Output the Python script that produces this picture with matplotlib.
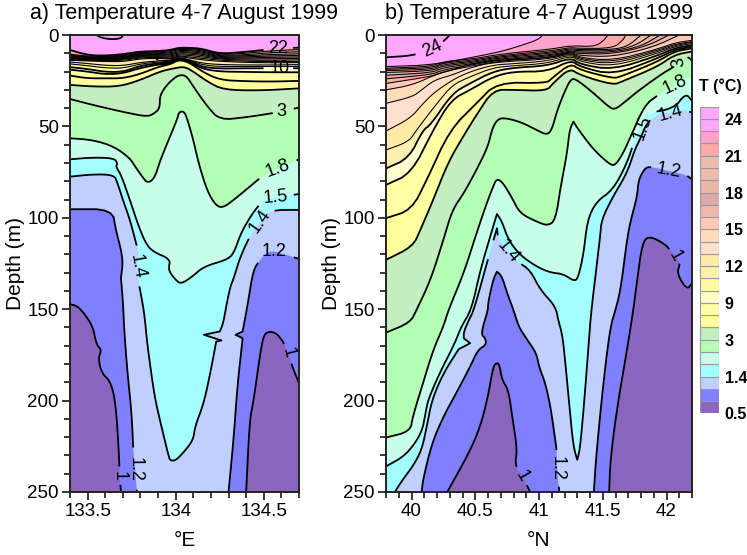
import matplotlib
matplotlib.use('Agg')
import matplotlib.pyplot as plt
import numpy as np

plt.rcParams['font.family'] = ['Liberation Sans', 'DejaVu Sans']

# band colours, keyed by the isotherm on top of the band
band_color = {23: '#FFA3CC', 22: '#FFA8A8', 21: '#EFBBAA', 20: '#EDBBAC', 19: '#EBB5A8',
              18: '#DFA9A9', 17: '#EDB8A8', 16: '#FFC8B8', 15: '#FFDDBB', 14: '#FFE0CF',
              13: '#FFEAA6', 12: '#FFEFB0', 11: '#FFFBA0', 10: '#FFFFD0', 9: '#FFFFA6',
              7: '#FFFFA0', 5: '#C2EEC0', 3: '#B3FFB3', 1.8: '#C6FFEA', 1.5: '#A3FFFF',
              1.4: '#BFD0FF', 1.2: '#8080FF', 1: '#8A66C0'}
top_color = '#FFA6FF'

# ---- section a: thermocline, depth at shared stations
a_lon = [133.40, 133.50, 133.60, 133.70, 133.80, 133.90, 133.97, 134.02, 134.08, 134.15, 134.25, 134.40, 134.55, 134.70]
a_t22 = [8.2, 11.0, 11.3, 10.5, 9.0, 8.8, 8.2, 6.9, 7.0, 7.5, 10.3, 9.2, 7.6, 6.9]
a_t21 = [10.5, 11.6, 11.8, 11.0, 9.6, 9.3, 8.6, 7.4, 7.5, 8.0, 10.8, 10.0, 8.6, 8.0]
a_t20 = [11.0, 12.0, 12.2, 11.4, 10.0, 9.8, 9.2, 7.9, 8.0, 8.6, 11.2, 10.8, 9.6, 9.2]
a_t19 = [11.4, 12.3, 12.5, 11.8, 10.4, 10.2, 9.8, 8.4, 8.5, 9.2, 11.6, 11.4, 10.6, 10.3]
a_t18 = [11.8, 12.6, 12.8, 12.2, 10.8, 10.6, 10.4, 9.0, 9.2, 9.8, 12.0, 12.0, 11.4, 11.2]
a_t17 = [12.2, 12.9, 13.1, 12.6, 11.2, 11.0, 11.0, 9.6, 9.8, 10.5, 12.4, 12.6, 12.2, 12.0]
a_t16 = [12.6, 13.2, 13.4, 13.0, 11.6, 11.4, 11.6, 10.2, 10.5, 11.2, 12.8, 13.2, 13.0, 12.8]
a_t15 = [13.0, 13.5, 13.7, 13.4, 12.0, 11.8, 12.2, 10.8, 11.2, 12.0, 13.2, 13.8, 13.8, 13.6]
a_t14 = [13.4, 13.8, 14.0, 13.9, 12.5, 12.2, 12.8, 11.4, 12.0, 12.8, 13.8, 14.4, 14.5, 14.4]
a_t13 = [13.8, 14.2, 14.5, 14.6, 13.0, 12.8, 13.2, 11.8, 12.6, 13.6, 14.4, 15.0, 15.2, 15.1]
a_t12 = [14.8, 15.6, 16.6, 16.8, 15.0, 14.2, 13.8, 12.2, 13.6, 15.4, 16.2, 16.4, 16.4, 16.2]
a_t11 = [15.8, 16.8, 18.0, 18.2, 15.8, 14.8, 14.4, 12.4, 13.9, 16.3, 17.3, 17.2, 17.2, 17.2]
a_t10 = [17.6, 18.6, 20.2, 20.2, 16.8, 15.5, 15.0, 12.6, 14.2, 17.5, 18.4, 18.2, 18.2, 18.2]
a_t9 = [19.0, 20.0, 21.5, 21.0, 18.0, 16.2, 15.6, 12.8, 14.8, 18.5, 20.0, 20.2, 20.4, 20.4]
a_t7 = [22.2, 23.7, 23.7, 23.7, 21.3, 17.5, 16.0, 13.5, 15.2, 20.0, 24.6, 25.3, 25.5, 25.1]
a_levels = [22, 21, 20, 19, 18, 17, 16, 15, 14, 13, 12, 11, 10, 9, 7]
a_depths = [a_t22, a_t21, a_t20, a_t19, a_t18, a_t17, a_t16, a_t15, a_t14, a_t13, a_t12, a_t11, a_t10, a_t9, a_t7]

# warm blob in the thermocline at 134E
a_blob = [(133.89, 13.4), (133.94, 12.3), (134.0, 13.0), (133.96, 14.3), (133.9, 14.0), (133.89, 13.4)]
# closed 24 degree contour at the surface
a_t24 = [(133.55, 0.0), (133.58, 1.6), (133.64, 2.4), (133.69, 1.8), (133.7, 0.0)]

# ---- section a: isotherms as (lon, depth), a repeated point keeps a sharp tip
a_t5 = [(133.4, 27.3), (133.53, 28.2), (133.68, 28.2), (133.8, 24.6), (133.91, 20), (133.99, 18.2), (134.05, 17.3),
        (134.1, 20), (134.18, 25.5), (134.27, 30), (134.48, 30.4), (134.7, 29.2)]
a_t3 = [(133.4, 35), (133.53, 38.3), (133.72, 42.5), (133.84, 44.7), (133.88, 42.8), (133.91, 40), (133.91, 33),
        (133.95, 27.3), (133.99, 23.7), (134.02, 21.9), (134.06, 22.2), (134.1, 28.2), (134.18, 39.2), (134.25, 46.5),
        (134.4, 45), (134.57, 42.5), (134.7, 39.7)]
a_t1_8 = [(133.4, 56.5), (133.53, 57.4), (133.65, 61), (133.74, 67.4), (133.77, 72), (133.81, 77.5), (133.84, 81.1),
          (133.88, 78.4), (133.91, 69.3), (133.94, 62), (133.98, 52.8), (134.01, 45.6), (134.02, 41.9), (134.05, 41.9),
          (134.07, 47.4), (134.1, 57.4), (134.13, 70.2), (134.18, 85.7), (134.23, 93.5), (134.27, 94.4), (134.33, 90.2),
          (134.42, 83), (134.5, 76.5), (134.55, 74.7), (134.7, 68)]
a_t1_5 = [(133.4, 68), (133.53, 67), (133.65, 67.4), (133.67, 70.2), (133.66, 72), (133.69, 76.5), (133.74, 90.2),
          (133.79, 104.8), (133.83, 113.9), (133.87, 118.5), (133.97, 122.6), (133.96, 127.6), (133.97, 130.3),
          (134.0, 134), (134.03, 136.2), (134.09, 132.5), (134.16, 126.6), (134.29, 123), (134.33, 119.4),
          (134.37, 108.4), (134.43, 98.4), (134.49, 91), (134.52, 90.2), (134.57, 88.8), (134.7, 87)]
a_t1_4 = [(133.4, 77.5), (133.53, 76.2), (133.65, 76.5), (133.67, 81), (133.7, 90.2), (133.74, 101), (133.77, 112),
          (133.79, 119.4), (133.78, 126.7), (133.79, 135.8), (133.82, 150.4), (133.84, 170.4), (133.88, 197.8),
          (133.91, 210.5), (133.96, 230.6), (133.97, 232.8), (134.0, 232.8), (134.05, 227.8), (134.1, 221.4),
          (134.11, 214), (134.16, 201.4), (134.2, 183.2), (134.23, 167.7), (134.23, 167.7), (134.26, 167.1), (134.26, 167.1),
          (134.16, 164), (134.16, 164), (134.16, 164), (134.25, 162.2), (134.25, 162.2), (134.27, 157.7), (134.29, 146.7),
          (134.31, 137.6), (134.33, 133), (134.36, 123), (134.42, 110), (134.48, 102), (134.54, 95.7), (134.7, 95.7)]
a_t1_2_left = [(133.4, 95.3), (133.64, 95.3), (133.66, 106.6), (133.69, 117.5), (133.7, 124.8), (133.69, 132.1),
               (133.69, 134), (133.7, 145), (133.71, 165), (133.73, 188.6), (133.75, 206.9), (133.76, 228.7),
               (133.77, 237.8), (133.78, 250)]
a_t1_2_right = [(134.3, 250), (134.33, 219.6), (134.35, 192.3), (134.38, 165.9), (134.38, 165.9), (134.34, 164), (134.34, 164), (134.34, 164),
                (134.38, 162.2), (134.38, 162.2), (134.41, 146.7), (134.44, 128.5), (134.48, 123), (134.52, 118.5), (134.57, 118.5), (134.7, 122.5)]
a_t1_left = [(133.4, 147.3), (133.44, 148.2), (133.48, 152.2), (133.53, 159.5), (133.55, 169.5), (133.58, 172.2),
             (133.56, 176.8), (133.58, 185), (133.63, 189.5), (133.66, 201.4), (133.68, 232.3), (133.68, 241), (133.69, 250)]
a_t1_right = [(134.4, 250), (134.42, 210.5), (134.44, 201.4), (134.48, 174), (134.5, 164), (134.53, 162.2),
              (134.57, 163), (134.61, 167.7), (134.64, 174), (134.66, 181), (134.7, 190.5)]

# ---- section b: isotherms as (lon, depth)
b_t24 = [(39.8, 12.2), (40.01, 11.3), (40.16, 7.7), (40.25, 3.6), (40.3, 0)]
b_t23 = [(39.8, 17.3), (40.16, 16.4), (40.5, 11.9), (40.7, 9.1), (40.83, 6.4), (40.99, 2.7), (41.03, 0)]
b_t22 = [(39.8, 18.2), (40.16, 17.2), (40.24, 14.6), (40.5, 12.9), (40.7, 10.4), (41.1, 7.7), (41.25, 5.8), (41.43, 6.4), (41.5, 3.6), (41.54, 0)]
b_t21 = [(39.8, 18.8), (40.16, 18), (40.24, 15.4), (40.5, 13.6), (40.7, 11.2), (41.1, 8.6), (41.25, 6.8), (41.3, 7.3), (41.58, 7.3), (41.66, 2.7), (41.68, 0)]
b_t20 = [(39.8, 19.5), (40.16, 18.8), (40.24, 16.2), (40.5, 14.2), (40.7, 11.8), (41.1, 9.4), (41.25, 7.4), (41.3, 8.0), (41.58, 8.0), (41.7, 6.0), (41.8, 0)]
b_t19 = [(39.8, 20.5), (40.16, 19.6), (40.24, 17.0), (40.5, 14.8), (40.7, 12.4), (41.1, 10.0), (41.25, 8.0), (41.3, 8.6), (41.58, 8.8), (41.75, 6.0), (41.88, 0)]
b_t18 = [(39.8, 22), (40.16, 20.6), (40.24, 18.0), (40.5, 15.4), (40.7, 13.0), (41.1, 10.8), (41.25, 8.6), (41.3, 9.4), (41.58, 9.5), (41.8, 6.2), (41.95, 0)]
b_t17 = [(39.8, 24), (40.16, 21.6), (40.24, 19.2), (40.5, 16.0), (40.7, 13.6), (41.1, 11.4), (41.25, 9.0), (41.3, 10.2), (41.58, 10.4), (41.85, 6.0), (42.02, 0)]
b_t16 = [(39.8, 26.5), (40.16, 22.6), (40.24, 20.2), (40.5, 16.6), (40.7, 14.2), (41.1, 12.1), (41.25, 9.3), (41.3, 11.2), (41.58, 12), (41.9, 6.5), (42.1, 0)]
b_t15 = [(39.8, 30), (40.01, 27.3), (40.18, 21.9), (40.32, 19.1), (40.46, 16), (40.64, 13.8), (41.07, 12.8), (41.25, 9.5), (41.32, 12.4), (41.58, 14), (41.93, 7.7), (42.06, 4.4), (42.2, 2.9)]
b_t14 = [(39.8, 37.4), (40.01, 33.7), (40.08, 30), (40.18, 24.6), (40.32, 21.9), (40.46, 17.9), (40.64, 14.9), (41.07, 13.3), (41.25, 10), (41.32, 13.1), (41.58, 14.9), (41.93, 8.4), (42.06, 5.1), (42.2, 3.6)]
b_t13 = [(39.8, 52.5), (39.99, 45.6), (40.08, 38.3), (40.17, 31.9), (40.32, 24.6), (40.46, 20), (40.64, 16.4), (40.8, 15.7), (41.07, 14.2), (41.25, 10.6), (41.32, 13.7), (41.58, 16), (41.93, 9.1), (42.06, 5.8), (42.2, 4)]
b_t12 = [(39.8, 62.9), (39.98, 58.3), (40.04, 51.9), (40.2, 37.4), (40.32, 27.3), (40.46, 22.8), (40.64, 17.9), (40.8, 16.8), (41.07, 15.5), (41.25, 11.3), (41.32, 14.6), (41.58, 17.3), (41.93, 10), (42.06, 6.4), (42.2, 4.6)]
b_t10 = [(39.8, 73), (39.98, 67.4), (40.09, 51.9), (40.15, 49.2), (40.32, 31.9), (40.46, 26.4), (40.64, 20), (40.8, 17.9), (41.07, 16.8), (41.25, 12.4), (41.32, 16), (41.58, 19.1), (41.93, 11.3), (42.06, 7.3), (42.2, 5.5)]
b_t9 = [(39.8, 82), (40, 75.6), (40.17, 51.9), (40.31, 35.5), (40.46, 30), (40.64, 22.8), (40.8, 20), (41.07, 20), (41.25, 13.7), (41.32, 17.3), (41.58, 21.9), (41.93, 12.8), (42.06, 8.2), (42.2, 6.4)]
b_t7 = [(39.8, 100.2), (40, 95.7), (40.12, 79.3), (40.3, 51.9), (40.51, 37.4), (40.67, 25.9), (41.06, 26.4), (41.1, 23.7), (41.25, 15.5), (41.32, 19.1), (41.58, 23.7), (41.64, 22.8), (41.93, 14.6), (42.06, 9.1), (42.2, 7.3)]
b_t5 = [(39.8, 123), (40.01, 115.7), (40.07, 106.6), (40.17, 90.2), (40.29, 69.2), (40.42, 53.8), (40.51, 43.7), (40.64, 30), (40.8, 30), (41.06, 30.6), (41.11, 26.4), (41.24, 18.2), (41.32, 21.9), (41.58, 27.3), (41.65, 25.5), (41.93, 17.3), (42.06, 10.9), (42.2, 9)]
b_t3 = [(39.8, 162.8), (39.99, 157.3), (40.04, 150.4), (40.15, 134), (40.25, 112.1), (40.32, 95.7), (40.41, 86.6), (40.51, 73.8), (40.6, 61), (40.63, 51.9),
        (40.67, 46.5), (40.72, 45.2), (40.85, 47.4), (40.98, 51.9), (41.06, 54.7), (41.1, 52), (41.14, 41.9), (41.19, 32.8), (41.25, 23.7), (41.3, 24.6),
        (41.43, 31.9), (41.56, 40.1), (41.6, 40.5), (41.66, 37.4), (41.77, 31), (41.95, 21.9), (42.06, 17.3), (42.1, 14.6), (42.17, 11.8), (42.2, 14.2)]
b_t1_8 = [(39.8, 220.2), (39.99, 216.9), (40.01, 208.7), (40.09, 190.5), (40.17, 172.3), (40.25, 159.5), (40.29, 150.4), (40.41, 130.3), (40.51, 108.4),
          (40.59, 92), (40.64, 82.9), (40.67, 78.4), (40.72, 81.1), (40.79, 89.3), (40.85, 97.5), (40.98, 102.1), (41.07, 104.4), (41.13, 101.1), (41.17, 82.9),
          (41.22, 64.7), (41.24, 51.9), (41.27, 47.4), (41.27, 47.4), (41.31, 51.9), (41.43, 62.9), (41.56, 71.1), (41.6, 71.1), (41.66, 64.7), (41.73, 53.8), (41.83, 38.3),
          (41.93, 33), (42.07, 27.3), (42.17, 21.9), (42.2, 24.6)]
b_t1_5 = [(39.8, 236), (39.96, 229.7), (40.08, 217.8), (40.11, 206.9), (40.13, 199.6), (40.22, 185), (40.34, 168.6), (40.39, 159.5), (40.47, 150.4), (40.54, 128.5),
          (40.64, 104.8), (40.67, 97.9), (40.67, 97.9), (40.71, 102.1), (40.76, 112.1), (40.85, 120.3), (40.98, 126.7), (41.09, 130), (41.19, 130.7), (41.28, 134.9), (41.31, 132.1),
          (41.35, 119.4), (41.38, 101.1), (41.45, 91.1), (41.58, 84.7), (41.69, 70.2), (41.75, 57.4), (41.81, 51), (41.85, 42.8), (42.06, 40.1), (42.15, 31.9), (42.2, 36)]
b_t1_4 = [(39.87, 250), (39.92, 244.3), (40.01, 236), (40.08, 227), (40.12, 214.2), (40.16, 199.6), (40.25, 185), (40.37, 171.9), (40.37, 171.9), (40.46, 168.6), (40.46, 168.6), (40.46, 168.6),
          (40.41, 165.9), (40.41, 165.9), (40.41, 162.3), (40.45, 155.9), (40.49, 150.4), (40.62, 117.5), (40.66, 108.4), (40.67, 105.7), (40.67, 105.7), (40.68, 111.2), (40.76, 118.5), (40.83, 124), (40.93, 128.5),
          (41.01, 139.4), (41.13, 148.5), (41.15, 155.8), (41.18, 163.2), (41.2, 174.1), (41.24, 205), (41.27, 225.1), (41.3, 232.4), (41.3, 232.4), (41.32, 227), (41.35, 205),
          (41.39, 168.6), (41.41, 150.4), (41.48, 110.3), (41.49, 101.1), (41.58, 88.4), (41.69, 75.6), (41.75, 62.9), (41.79, 57.4), (41.85, 47.4), (41.96, 42.3),
          (42.03, 42.8), (42.12, 41), (42.2, 42.3)]
b_t1_2_mid = [(40.08, 250), (40.09, 243.3), (40.16, 223.3), (40.25, 208.7), (40.35, 196), (40.46, 181.4), (40.52, 172.3), (40.585, 169.5), (40.58, 165.9),
              (40.55, 164.1), (40.56, 159.5), (40.6, 150.4), (40.6, 146.7), (40.64, 134), (40.67, 129.4), (40.67, 129.4), (40.71, 132.1), (40.75, 141.2), (40.8, 150.4),
              (40.84, 159.5), (40.9, 165.9), (40.98, 174.1), (41.0, 181.4), (41.05, 190.5), (41.09, 203.3), (41.12, 217.8), (41.14, 227.9), (41.14, 237), (41.16, 250)]
b_t1_2_right = [(41.43, 250), (41.45, 228.8), (41.51, 186.8), (41.56, 159.5), (41.6, 150.4), (41.64, 139.4), (41.69, 112), (41.72, 101.1), (41.77, 88.4),
                (41.78, 79.3), (41.83, 72.9), (41.87, 72), (42.02, 74.4), (42.15, 76.5), (42.2, 78.9)]
b_t1_mid = [(40.28, 250), (40.45, 228.8), (40.54, 214.2), (40.6, 197.8), (40.64, 181.4), (40.67, 179.2), (40.69, 180.5), (40.71, 188.7), (40.76, 194.1),
            (40.79, 208.7), (40.83, 227), (40.81, 235.1), (40.87, 241.2), (40.93, 250)]
b_t1_right = [(41.55, 250), (41.56, 232.4), (41.61, 205), (41.69, 172.3), (41.74, 150.4), (41.77, 134), (41.81, 113.9), (41.86, 109.9), (41.98, 113.9),
              (42.04, 118.5), (42.07, 120.8), (42.11, 124.8), (42.08, 130.3), (42.16, 139.4), (42.2, 135.8)]

thin_levels = [21, 20, 19, 18, 17, 16, 15, 14, 13, 12, 11]

# contour labels: text, lon, depth, rotation
a_labels = [('22', 134.58, 7.4, 0), ('10', 134.59, 18.2, 0), ('3', 134.6, 41.8, 0),
            ('1.8', 134.58, 73, 20), ('1.5', 134.57, 88.8, 5), ('1.4', 134.48, 102, 55),
            ('1.2', 134.56, 118.5, 0), ('1', 134.64, 174, -75), ('1.4', 133.78, 126.7, -80),
            ('1.2', 133.77, 237.8, -90), ('1', 133.68, 241, -90)]
b_labels = [('24', 40.16, 7.7, 25), ('3', 42.1, 14.6, 100), ('1.8', 42.07, 27.3, 25),
            ('1.5', 41.81, 51, 70), ('1.4', 42.03, 42.8, 15), ('1.2', 42.02, 74.4, -10),
            ('1', 42.07, 120.8, -60), ('1.4', 40.76, 118.5, -50), ('1', 40.87, 241.2, -60),
            ('1.2', 41.14, 237, -90)]

# colour bar, from the bottom up
bar_colors = ['#8A66C0', '#8080FF', '#BFD0FF', '#A3FFFF', '#C6FFEA', '#B3FFB3', '#C2EEC0', '#FFFFA0', '#FFFFA6', '#FFFFD0',
              '#FFFBA0', '#FFEFB0', '#FFEAA6', '#FFE0CF', '#FFDDBB', '#FFC8B8', '#EDB8A8', '#DFA9A9', '#EBB5A8', '#EDBBAC',
              '#EFBBAA', '#FFA8A8', '#FFA3CC', '#FFA6FF', '#FFA6FF']
bar_ticks = [0, 3, 6, 9, 12, 15, 18, 21, 24]
bar_labels = ['0.5', '1.4', '3', '9', '12', '15', '18', '21', '24']


def smooth(pts, rounds=2):
    # corner cutting so the read-off polylines look like contours, end points stay put
    p = np.array(pts, dtype=float)
    for _ in range(rounds):
        q = 0.75 * p[:-1] + 0.25 * p[1:]
        r = 0.25 * p[:-1] + 0.75 * p[1:]
        mid = np.empty((2 * len(q), 2))
        mid[0::2] = q
        mid[1::2] = r
        p = np.vstack([p[0], mid, p[-1]])
    return p


def fill_below(ax, pts, color):
    xmin, xmax = ax.get_xlim()
    p = smooth(pts)
    xs = list(p[:, 0])
    ds = list(p[:, 1])
    if ds[-1] == 0:
        xs.append(xmax)
        ds.append(0)
    if xs[-1] >= xmax - 1e-6:
        xs.append(xmax)
        ds.append(250)
    if xs[0] <= xmin + 1e-6:
        xs.append(xmin)
        ds.append(250)
    ax.fill(xs, ds, color=color, lw=0, zorder=1)


def draw_line(ax, pts, lw=1.3, lev=None, labels=()):
    # break the line where its own label sits
    p = smooth(pts)
    xx = p[:, 0].copy()
    dd = p[:, 1]
    screen = ax.transData.transform(p)
    for txt, lon, dep, rot in labels:
        if float(txt) == lev:
            c = ax.transData.transform((lon, dep))
            r = 5 + 4.5 * len(txt)
            xx[np.hypot(screen[:, 0] - c[0], screen[:, 1] - c[1]) < r] = np.nan
    ax.plot(xx, dd, color='black', lw=lw, zorder=3, solid_joinstyle='round')


def setup(ax, xlim, major, minor, xlabel, title):
    ax.set_xticks(major)
    ax.set_xticklabels([('%g' % m) for m in major], fontsize=13.5)
    ax.set_xticks(minor, minor=True)
    ax.set_yticks(range(0, 251, 50))
    ax.set_yticks(range(0, 251, 10), minor=True)
    ax.set_xlim(xlim)
    ax.set_ylim(250, 0)
    ax.set_facecolor(top_color)
    ax.tick_params(axis='y', labelsize=13.5)
    ax.tick_params(which='major', length=6, width=1.1, pad=2)
    ax.tick_params(which='minor', length=4, width=1.1)
    ax.set_xlabel(xlabel, fontsize=15, labelpad=8)
    ax.set_ylabel('Depth (m)', fontsize=15, labelpad=2)
    center = ax.get_position().x0 + ax.get_position().width / 2
    fig.text(center, (555 - 13) / 555, title, fontsize=15.5, ha='center', va='center')
    for s in ax.spines.values():
        s.set_linewidth(1.4)
        s.set_color('#222222')
        s.set_zorder(6)


def put_labels(ax, labels):
    for txt, lon, dep, rot in labels:
        ax.text(lon, dep, txt, fontsize=13, rotation=rot, ha='center', va='center', rotation_mode='anchor', zorder=5)


fig = plt.figure(figsize=(7.47, 5.55), dpi=100)
ax1 = fig.add_axes([70 / 747, 63 / 555, 229 / 747, 457 / 555])
ax2 = fig.add_axes([386 / 747, 63 / 555, 306 / 747, 457 / 555])
setup(ax1, (133.4, 134.7), [133.5, 134, 134.5], [133.4 + i * 0.1 for i in range(14)], '°E', 'a) Temperature 4-7 August 1999')
setup(ax2, (39.8, 42.2), [40, 40.5, 41, 41.5, 42], [39.8 + i * 0.1 for i in range(25)], '°N', 'b) Temperature 4-7 August 1999')

# section a
for lev, dep in zip(a_levels, a_depths):
    fill_below(ax1, list(zip(a_lon, dep)), band_color[lev])
a_deep = [(5, a_t5), (3, a_t3), (1.8, a_t1_8), (1.5, a_t1_5), (1.4, a_t1_4), (1.2, a_t1_2_left), (1.2, a_t1_2_right), (1, a_t1_left), (1, a_t1_right)]
for lev, pts in a_deep:
    fill_below(ax1, pts, band_color[lev])
ax1.fill([p[0] for p in a_blob], [p[1] for p in a_blob], color='#FFE0CF', lw=0, zorder=2)
for lev, dep in zip(a_levels, a_depths):
    draw_line(ax1, list(zip(a_lon, dep)), lw=0.8 if lev in thin_levels else 1.3, lev=lev, labels=a_labels)
for lev, pts in a_deep:
    draw_line(ax1, pts, lev=lev, labels=a_labels)
draw_line(ax1, a_blob, lw=0.5)
draw_line(ax1, a_t24)
put_labels(ax1, a_labels)

# section b
b_warm = [(23, b_t23), (22, b_t22), (21, b_t21), (20, b_t20), (19, b_t19), (18, b_t18), (17, b_t17), (16, b_t16), (15, b_t15),
          (14, b_t14), (13, b_t13), (12, b_t12)]
b_deep = [(10, b_t10), (9, b_t9), (7, b_t7), (5, b_t5), (3, b_t3), (1.8, b_t1_8), (1.5, b_t1_5), (1.4, b_t1_4), (1.2, b_t1_2_mid),
          (1.2, b_t1_2_right), (1, b_t1_mid), (1, b_t1_right)]
for lev, pts in b_warm + b_deep:
    fill_below(ax2, pts, band_color[lev])
for lev, pts in b_warm:
    draw_line(ax2, pts, lw=0.75)
for lev, pts in b_deep:
    draw_line(ax2, pts, lev=lev, labels=b_labels)
draw_line(ax2, b_t24, lev=24, labels=b_labels)
put_labels(ax2, b_labels)

# colour bar
cax = fig.add_axes([700 / 747, (555 - 413.3) / 555, 19.3 / 747, 306.6 / 555])
cax.bar([0.5] * len(bar_colors), [1] * len(bar_colors), width=1, bottom=range(len(bar_colors)), color=bar_colors,
        edgecolor='#9a9a9a', linewidth=0.8)
cax.set_xlim(0, 1)
cax.set_ylim(0, len(bar_colors))
cax.set_xticks([])
cax.yaxis.tick_right()
cax.set_yticks(bar_ticks)
cax.set_yticklabels(bar_labels, fontsize=11.5, fontweight='bold')
cax.tick_params(axis='y', length=0, pad=4)
for s in cax.spines.values():
    s.set_visible(False)
fig.text(699 / 747, (555 - 86) / 555, 'T (°C)', fontsize=11.5, fontweight='bold', ha='left', va='center')

fig.savefig('out.png', dpi=100)
